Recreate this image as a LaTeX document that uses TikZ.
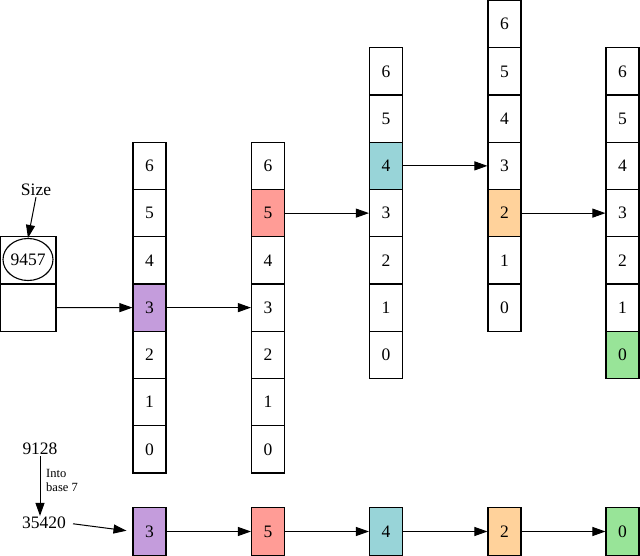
\documentclass[tikz,border=0pt]{standalone}
\usepackage{fontspec}
\setmainfont{Liberation Serif}
\usetikzlibrary{arrows.meta,shapes.geometric}
\definecolor{cpurple}{RGB}{196,156,220}
\definecolor{cred}{RGB}{255,156,150}
\definecolor{cteal}{RGB}{152,212,216}
\definecolor{corange}{RGB}{255,210,155}
\definecolor{cgreen}{RGB}{152,228,152}
\begin{document}
\begin{tikzpicture}[x=1pt,y=-1pt,
  cell/.style={draw, line width=1.1pt, minimum width=33pt, minimum height=47.25pt, inner sep=0pt, font=\fontsize{17.5}{20}\selectfont},
  lbl/.style={inner sep=1pt, font=\fontsize{17.5}{20}\selectfont},
  small/.style={inner sep=1pt, align=left, font=\fontsize{12.5}{14}\selectfont},
  arr/.style={-{Triangle[length=13pt,width=9pt]}, line width=1pt},
  hl1-3/.style={fill=cpurple}, hl2-5/.style={fill=cred}, hl3-4/.style={fill=cteal},
  hl4-2/.style={fill=corange}, hl5-0/.style={fill=cgreen}]
\useasboundingbox (0,0) rectangle (640,556);
% columns
\foreach \col/\x/\off in {1/149.5/3,2/268/3,3/386/1,4/504.5/0,5/622.5/1}{
  \foreach \v in {0,...,6}{
    \node[cell, hl\col-\v/.try] (c\col-\v) at (\x,{0.5+47.25*(\off+6-\v)+23.625}) {\v};
  }
}
% bottom row
\node[cell, fill=cpurple] (b1) at (149.5,531.5) {3};
\node[cell, fill=cred] (b2) at (268,531.5) {5};
\node[cell, fill=cteal] (b3) at (386,531.5) {4};
\node[cell, fill=corange] (b4) at (504.5,531.5) {2};
\node[cell, fill=cgreen] (b5) at (622.5,531.5) {0};
% left box
\node[cell, minimum width=55.5pt] (lt) at (28.25,260.4) {};
\node[cell, minimum width=55.5pt] (lb) at (28.25,307.6) {};
\node[ellipse, draw, line width=1.1pt, minimum width=50pt, minimum height=42pt, inner sep=0pt, font=\fontsize{17.5}{20}\selectfont] (ell) at (28,259.5) {9457};
\node[lbl] (size) at (36,190) {Size};
\draw[arr] (size.south) -- (ell.north);
% arrows
\draw[arr] (lb.east) -- (c1-3.west);
\draw[arr] (c1-3.east) -- (c2-3.west);
\draw[arr] (c2-5.east) -- (c3-3.west);
\draw[arr] (c3-4.east) -- (c4-3.west);
\draw[arr] (c4-2.east) -- (c5-3.west);
\draw[arr] (b1.east) -- (b2.west);
\draw[arr] (b2.east) -- (b3.west);
\draw[arr] (b3.east) -- (b4.west);
\draw[arr] (b4.east) -- (b5.west);
% conversion
\node[lbl] (n9128) at (40,449) {9128};
\node[lbl] (n35420) at (44,523) {35420};
\node[small, anchor=west] (into) at (45,480) {Into\\base 7};
\draw[arr] (n9128.south -| 40,0) -- (n35420.north -| 40,0);
\draw[arr, shorten <=6pt, shorten >=6pt] (n35420.east) -- (b1.west);
\end{tikzpicture}
\end{document}
